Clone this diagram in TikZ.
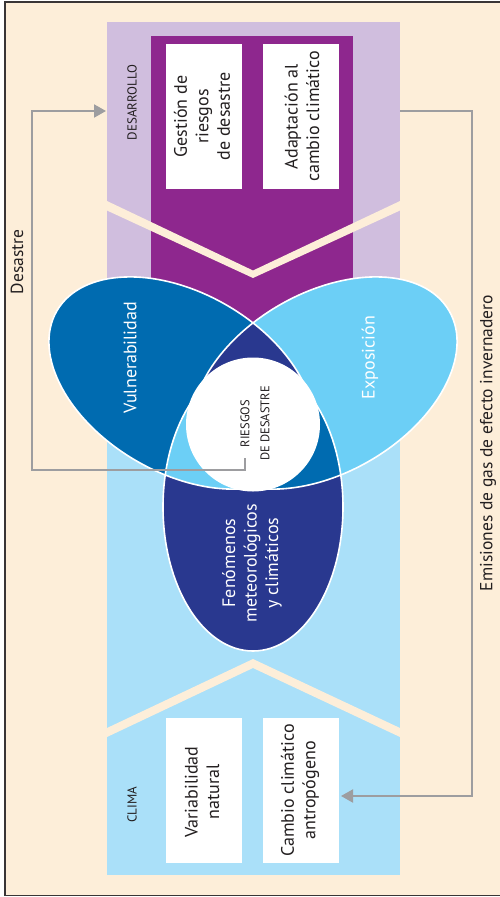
\documentclass[tikz,border=0pt]{standalone}
\usepackage{fontspec}
\setmainfont{PT Sans}
\usetikzlibrary{arrows.meta}

\definecolor{cream}{RGB}{253,238,217}
\definecolor{lavender}{RGB}{208,190,222}
\definecolor{plum}{RGB}{142,39,142}
\definecolor{skyrect}{RGB}{170,224,249}
\definecolor{vulnblue}{RGB}{0,107,176}
\definecolor{expoblue}{RGB}{108,207,246}
\definecolor{navy}{RGB}{41,56,143}
\definecolor{arrowgrey}{RGB}{157,157,160}
\definecolor{ink}{RGB}{35,31,32}

\begin{document}
\begin{tikzpicture}[x=1pt,y=1pt,
  vuln/.style={shift={(181.5,-383)},rotate=150},
  expo/.style={shift={(324.5,-383)},rotate=30},
  fen/.style={shift={(253,-507)},rotate=90},
  whitebox/.style={fill=white,draw=none},
  boxtext/.style={rotate=90,align=center,text=ink,font=\fontsize{18}{21.5}\selectfont},
  tag/.style={rotate=90,text=ink,font=\fontsize{13}{15}\selectfont},
  venntext/.style={rotate=90,align=center,text=white,font=\fontsize{18}{21.5}\selectfont},
  side/.style={rotate=90,text=ink,font=\fontsize{17.5}{21}\selectfont},
  arr/.style={draw=arrowgrey,line width=2pt,-{Triangle[length=12pt,width=13pt]}},
  outline/.style={draw=white,line width=1.6pt}
]
\useasboundingbox (0,0) rectangle (500,-897);

% background and frame
\fill[white] (0,0) rectangle (500,-897);
\draw[fill=cream,draw=ink!90,line width=1.2pt] (5,-2) rectangle (506,-895.5);

% development (top) and climate (bottom) panels
\fill[lavender] (107,-22) rectangle (400,-424);
\fill[plum] (151,-36) rectangle (353,-424);
\fill[skyrect] (107,-424) rectangle (400,-875);

% cream chevron bands
\fill[cream] (107,-201) -- (253,-270.5) -- (400,-201) -- (400,-210.5) -- (253,-278) -- (107,-210.5) -- cycle;
\fill[cream] (107,-728) -- (253,-659) -- (400,-728) -- (400,-737) -- (253,-668) -- (107,-737) -- cycle;

% white boxes
\fill[whitebox] (166,-44) rectangle (242,-189);
\fill[whitebox] (263,-44) rectangle (339,-189);
\fill[whitebox] (166,-718) rectangle (242,-863);
\fill[whitebox] (263,-718) rectangle (339,-863);
\node[boxtext] (gestion) at (202,-116.5) {Gestión de\\riesgos\\de desastre};
\node[boxtext] (adapt) at (302,-116.5) {Adaptación al\\cambio climático};
\node[boxtext] (variab) at (202,-792) {Variabilidad\\natural};
\node[boxtext] (antrop) at (300,-790.5) {Cambio climático\\antropógeno};

\node[tag] (desarrollo) at (132,-102.5) {DESARROLLO};
\node[tag] (clima) at (132,-805) {CLIMA};

% three overlapping ellipses
\fill[vulnblue,vuln] (0,0) ellipse (144 and 90);
\fill[expoblue,expo] (0,0) ellipse (144 and 90);
\fill[navy,fen] (0,0) ellipse (144 and 90);
\begin{scope}
  \clip[vuln] (0,0) ellipse (144 and 90);
  \fill[navy,expo] (0,0) ellipse (144 and 90);
\end{scope}
\begin{scope}
  \clip[vuln] (0,0) ellipse (144 and 90);
  \fill[expoblue,fen] (0,0) ellipse (144 and 90);
\end{scope}
\begin{scope}
  \clip[expo] (0,0) ellipse (144 and 90);
  \fill[vulnblue,fen] (0,0) ellipse (144 and 90);
\end{scope}
\draw[outline,vuln] (0,0) ellipse (144 and 90);
\draw[outline,expo] (0,0) ellipse (144 and 90);
\draw[outline,fen] (0,0) ellipse (144 and 90);

\node[venntext] (vulnlabel) at (130,-357.5) {Vulnerabilidad};
\node[venntext] (expolabel) at (370,-357.5) {Exposición};
\node[venntext] (fenlabel) at (252,-563) {Fenómenos\\meteorológicos\\y climáticos};

% central risk circle
\node[circle,fill=white,minimum size=134pt,inner sep=0pt] (riesgos) at (253,-424.5) {};
\node[rotate=90,align=center,text=ink,font=\fontsize{12.5}{20}\selectfont] (riesgostext) at (255,-423.5) {RIESGOS\\DE DESASTRE};

% feedback arrows
\coordinate (dstart) at (245,-458);
\coordinate (dleft) at (32,-470);
\coordinate (dtip) at (106,-111);
\draw[arr] (dstart) |- (dleft) |- (dtip);
\node[side] (desastre) at (17,-262) {Desastre};

\coordinate (estart) at (400,-111);
\coordinate (ecorner) at (472,-796);
\coordinate (etip) at (341,-796);
\draw[arr] (estart) -| (ecorner) -- (etip);
\node[side] (emisiones) at (488,-443) {Emisiones de gas de efecto invernadero};
\end{tikzpicture}
\end{document}
